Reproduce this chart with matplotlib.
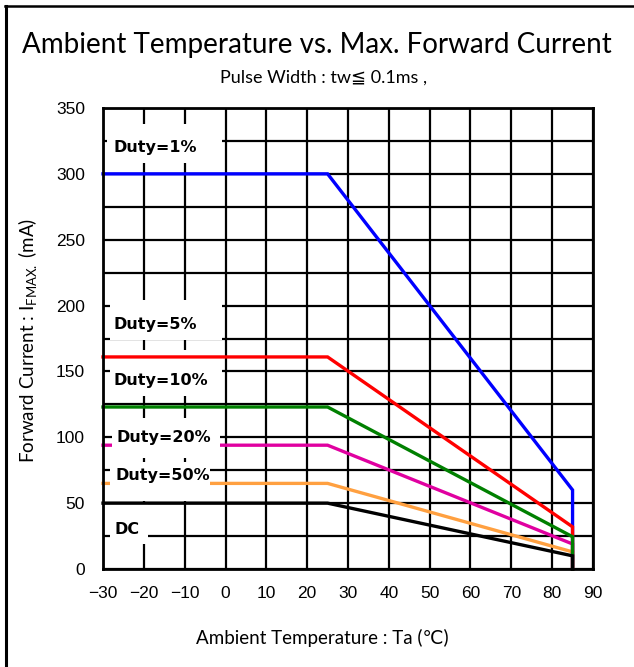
import matplotlib
matplotlib.use('Agg')
import matplotlib.pyplot as plt
from matplotlib.patches import Rectangle
from matplotlib.lines import Line2D

# derating curves: flat up to 25 C, linear to 85 C, then drop to 0
temps = [-30, 25, 85, 85]
duty_labels = ['Duty=1%', 'Duty=5%', 'Duty=10%', 'Duty=20%', 'Duty=50%', 'DC']
flat_current = [300, 161, 123, 94, 65, 50]
end_current = [60, 32, 24.5, 19, 13, 10]
colors = ['#0000ff', '#ff0000', '#008000', '#e000a0', '#ffa040', '#000000']
line_z = [5, 5, 5, 2.5, 2.5, 5]

# label text anchors (left, centre) and white background boxes (x0, y0, x1, y1)
label_pos = [(-27.4, 320), (-27.4, 186), (-27.4, 143), (-26.8, 99.5), (-27.0, 71), (-27.2, 30)]
label_box = [(-29.0, 308, -0.9, 338), (-28.3, 174, -0.9, 204), (-28.3, 131, -0.9, 166),
             (-27.8, 84, -1.3, 115), (-28.3, 52, -3.8, 81), (-28.3, 19, -19.0, 49)]

x_ticks = list(range(-30, 91, 10))
y_ticks = list(range(0, 351, 50))
y_grid = list(range(0, 351, 25))

plt.rcParams['mathtext.fontset'] = 'custom'
plt.rcParams['mathtext.rm'] = 'Lato'

fig = plt.figure(figsize=(6.34, 6.67), dpi=100)
ax = fig.add_axes([0.1625, 0.1469, 0.9353 - 0.1625, 0.8381 - 0.1469])

ax.set_xlim(-30, 90)
ax.set_ylim(0, 350)

for xv in x_ticks:
    ax.axvline(xv, color='black', lw=1.6, zorder=1)
for yv in y_grid:
    ax.axhline(yv, color='black', lw=1.6, zorder=1)

for (x0, y0, x1, y1) in label_box:
    ax.add_patch(Rectangle((x0, y0), x1 - x0, y1 - y0, facecolor='white',
                           edgecolor='none', zorder=3))

for i in range(len(duty_labels)):
    cur = [flat_current[i], flat_current[i], end_current[i], 0]
    ax.plot(temps, cur, color=colors[i], lw=2.4, zorder=line_z[i] + i * 0.01,
            solid_joinstyle='miter', clip_on=False)

for txt, (xv, yv) in zip(duty_labels, label_pos):
    ax.text(xv, yv, txt, ha='left', va='center', fontsize=11.5, fontweight='bold',
            family='DejaVu Sans', zorder=4)

ax.set_xticks(x_ticks)
ax.set_yticks(y_ticks)
ax.tick_params(length=0, labelsize=12.5)
ax.tick_params(axis='x', pad=12)
ax.tick_params(axis='y', pad=13)
for lab in ax.get_xticklabels() + ax.get_yticklabels():
    lab.set_family('Liberation Sans')
for sp in ax.spines.values():
    sp.set_linewidth(2)
    sp.set_zorder(6)

fig.text(0.5, 0.932, 'Ambient Temperature vs. Max. Forward Current', ha='center', va='center',
         fontsize=20, family=['Lato', 'DejaVu Sans'])
fig.text(0.51, 0.884, 'Pulse Width : tw\u2266 0.1ms ,', ha='center', va='center',
         fontsize=13, family=['Lato', 'DejaVu Sans'])
fig.text(0.508, 0.043, 'Ambient Temperature : Ta (\u2103)', ha='center', va='center',
         fontsize=13.5, family=['Lato', 'DejaVu Sans'])
fig.text(0.044, 0.49, 'Forward Current : I$_{\\rm FMAX.}$ (mA)', ha='center', va='center',
         rotation=90, fontsize=13.5, family=['Lato', 'DejaVu Sans'])

# frame around the figure (top and left edges visible)
fig.add_artist(Line2D([0.008, 1.0], [0.991, 0.991], color='black', lw=1.8,
                      transform=fig.transFigure))
fig.add_artist(Line2D([0.009, 0.009], [0.0, 0.991], color='black', lw=2.2,
                      transform=fig.transFigure))

fig.savefig('out.png', dpi=100)
